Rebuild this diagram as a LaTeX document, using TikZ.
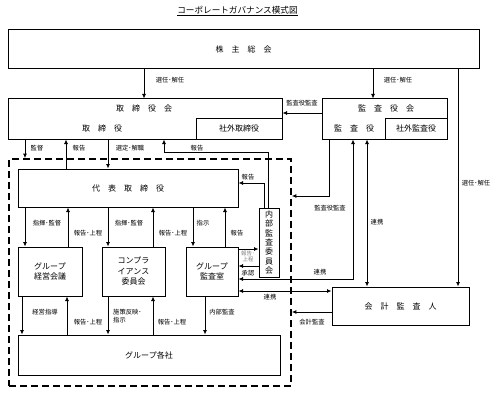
\documentclass[tikz,border=0pt]{standalone}
\usepackage{fontspec}
\setmainfont{Noto Sans CJK JP}
\usetikzlibrary{arrows.meta}
\begin{document}
\begin{tikzpicture}[x=1pt,y=-1pt,
  box/.style={draw, line width=1pt, inner sep=0pt, align=center, font=\fontsize{8}{10.5}\selectfont},
  txt/.style={inner sep=0pt, font=\fontsize{8}{10}\selectfont},
  lbl/.style={inner sep=0pt, font=\fontsize{6.3}{7.5}\selectfont},
  arr/.style={line width=0.8pt, -{Latex[length=4.5pt,width=4pt]}},
  darr/.style={line width=0.8pt, {Latex[length=4.5pt,width=4pt]}-{Latex[length=4.5pt,width=4pt]}}
]
\useasboundingbox (0,0) rectangle (497,393);

% helper coordinates
\foreach \v in {22,25,66,67,68,108,144,153,164,193,205,225,264,268,329,353,367,373,458}
  \coordinate (v\v) at (\v,0);
\foreach \h in {113,152,183,196,249,266,279,291,312}
  \coordinate (h\h) at (0,\h);

% title
\node[txt, font=\fontsize{8.6}{10}\selectfont] (title) at (237.5,11) {\underline{コーポレートガバナンス模式図}};

% boxes
\node[box, minimum width=471pt, minimum height=39pt] (kabu) at (243.5,49.5) {株　主　総　会};
\node[box, minimum width=274pt, minimum height=40pt] (tori) at (145,119) {};
\node[box, minimum width=86pt, minimum height=21pt] (shagai) at (239,128.5) {社外取締役};
\node[txt] (toritxt) at (144,108) {取　締　役　会};
\node[txt] (torisub) at (102,128) {取　締　役};

\node[box, minimum width=125pt, minimum height=40pt] (kansa) at (384.5,119) {};
\node[box, minimum width=62pt, minimum height=21pt] (shagaik) at (416,128.5) {社外監査役};
\node[txt] (kansatxt) at (386,108) {監　査　役　会};
\node[txt] (kansasub) at (354,128) {監　査　役};

\node[draw, line width=1.7pt, dash pattern=on 7pt off 4pt, minimum width=282pt, minimum height=227pt, inner sep=0pt] (grp) at (150,272.5) {};

\node[box, minimum width=220pt, minimum height=38pt] (daihyo) at (128,188) {代　表　取　締　役};
\node[box, minimum width=64pt, minimum height=49pt] (keiei) at (50,271.5) {グループ\\経営会議};
\node[box, minimum width=63pt, minimum height=49pt] (comp) at (133.5,271.5) {コンプラ\\イアンス\\委員会};
\node[box, minimum width=52pt, minimum height=49pt] (shitsu) at (212,271.5) {グループ\\監査室};
\node[box, minimum width=20pt, minimum height=69pt, font=\fontsize{8}{9.4}\selectfont] (naibu) at (269,242.5) {内\\部\\監\\査\\委\\員\\会};
\node[box, minimum width=262pt, minimum height=40pt] (kakusha) at (149,355) {グループ各社};
\node[box, minimum width=137pt, minimum height=38pt] (kaikei) at (400.5,306) {会　計　監　査　人};

% connectors from shareholders
\draw[arr] (kabu.south -| v144) -- (tori.north -| v144);
\draw[arr] (kabu.south -| v373) -- (kansa.north -| v373);
\draw[arr] (kabu.south -| v458) -- (kaikei.north -| v458);
\node[lbl] (l1) at (170,80) {選任･解任};
\node[lbl] (l2) at (398,80) {選任･解任};
\node[lbl] (l3) at (476,183) {選任･解任};

% auditors -> board
\draw[arr] (kansa.west |- h113) -- (tori.east |- h113);
\node[lbl] (l4) at (302,103) {監査役監査};

% board <-> representative
\draw[arr] (tori.south -| v25) -- (grp.north -| v25);
\node[lbl] (l5) at (37,148) {監督};
\draw[arr] (daihyo.north -| v66) -- (tori.south -| v66);
\node[lbl] (l6) at (79,148) {報告};
\draw[arr] (tori.south -| v108) -- (daihyo.north -| v108);
\node[lbl] (l7) at (130,148) {選定･解職};
\draw[arr] (naibu.north -| v268) |- (v164 |- h152) -- (tori.south -| v164);
\node[lbl] (l8) at (197,148) {報告};
\draw[arr] (naibu.north -| v264) |- (daihyo.east |- h183);
\node[lbl] (l9) at (248,177) {報告};

% representative -> sub units
\draw[arr] (daihyo.south -| v25) -- (keiei.north -| v25);
\node[lbl] (l10) at (47,223) {指揮･監督};
\draw[arr] (keiei.north -| v68) -- (daihyo.south -| v68);
\node[lbl] (l11) at (88,233) {報告･上程};
\draw[arr] (daihyo.south -| v108) -- (comp.north -| v108);
\node[lbl] (l12) at (129,223) {指揮･監督};
\draw[arr] (comp.north -| v153) -- (daihyo.south -| v153);
\node[lbl] (l13) at (173,233) {報告･上程};
\draw[arr] (daihyo.south -| v193) -- (shitsu.north -| v193);
\node[lbl] (l14) at (203,223) {指示};
\draw[arr] (shitsu.north -| v225) -- (daihyo.south -| v225);
\node[lbl] (l15) at (237,233) {報告};

% sub units -> group companies
\draw[arr] (keiei.south -| v22) -- (kakusha.north -| v22);
\node[lbl] (l16) at (45,312) {経営指導};
\draw[arr] (kakusha.north -| v67) -- (keiei.south -| v67);
\node[lbl] (l17) at (88,322) {報告･上程};
\draw[arr] (comp.south -| v108) -- (kakusha.north -| v108);
\node[lbl, align=left, anchor=west] (l18) at (113,316) {施策反映･\\指示};
\draw[arr] (kakusha.north -| v153) -- (comp.south -| v153);
\node[lbl] (l19) at (172,322) {報告･上程};
\draw[arr] (shitsu.south -| v205) -- (kakusha.north -| v205);
\node[lbl] (l20) at (222,312) {内部監査};

% audit office <-> internal audit committee
\draw[arr] (shitsu.east |- h249) -- (naibu.west |- h249);
\node[lbl, align=center, text=gray, font=\fontsize{5.5}{6.5}\selectfont] (l21) at (248,256.5) {報告･\\上程};
\draw[arr] (naibu.west |- h266) -- (shitsu.east |- h266);
\node[lbl] (l22) at (248,273) {承認};

% corporate auditors
\draw[arr] (kansa.south -| v329) |- (grp.east |- h196);
\node[lbl] (l23) at (330,208) {監査役監査};
\draw[darr] (shitsu.east |- h279) -| (kansa.south -| v353);
\node[lbl] (l24) at (320,272) {連携};
\draw[darr] (kansa.south -| v367) -- (kaikei.north -| v367);
\node[lbl] (l25) at (377,222) {連携};
\draw[darr] (shitsu.east |- h291) -- (kaikei.west |- h291);
\node[lbl] (l26) at (270,297) {連携};
\draw[arr] (kaikei.west |- h312) -- (grp.east |- h312);
\node[lbl] (l27) at (312,322) {会計監査};
\end{tikzpicture}
\end{document}
